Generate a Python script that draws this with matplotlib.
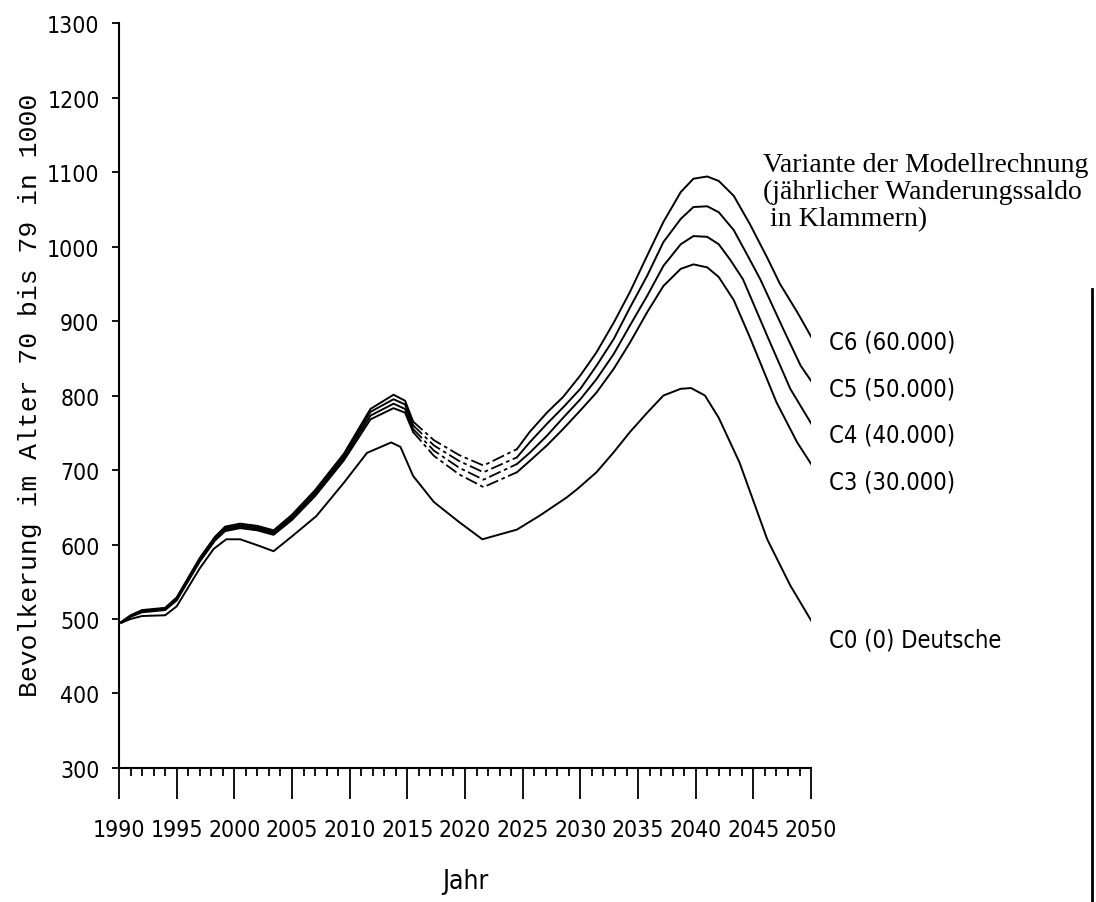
import matplotlib
matplotlib.use('Agg')
import matplotlib.pyplot as plt
from matplotlib.lines import Line2D

# values (population aged 70-79, in 1000)
years_c0 = [1990.2, 1991, 1992, 1994, 1995, 1997, 1998.2, 1999.3, 2000.5, 2002, 2003.4, 2005, 2007.1,
            2009.5, 2011.5, 2013.6, 2014.4, 2015.5, 2017.3, 2019.5, 2021.5, 2024.5, 2026.5, 2028.8,
            2029.7, 2031.4, 2032.9, 2034.3, 2035.8, 2037.2, 2038.7, 2039.6, 2040.8, 2042.0, 2043.8,
            2046.2, 2048.2, 2050.2]
c0 = [495, 500, 504, 505, 517, 568, 594, 607, 607, 599, 591, 611, 638, 683, 723, 737, 731, 692, 657,
      630, 607, 620, 639, 663, 674, 697, 724, 751, 777, 800, 809, 810, 800, 770, 710, 607, 545, 493]

# common year grid of the C3..C6 variants up to 2042, tails differ per curve
years_up = [1990.2, 1991, 1992, 1994, 1995, 1997, 1998.3, 1999.2, 2000.5, 2002, 2003.4, 2005, 2007,
            2009.5, 2011.8, 2013.8, 2014.8, 2015.5, 2017.3, 2019.5, 2021.6, 2024.5, 2025.6, 2027.1,
            2028.5, 2030.0, 2031.4, 2032.9, 2034.3, 2035.8, 2037.2, 2038.7, 2039.8, 2041.0, 2042.0]

years_c3 = years_up + [2043.3, 2044.7, 2047.0, 2048.8, 2050.3]
c3 = [495, 503, 509, 512, 525, 577, 605, 618, 622, 619, 613, 633, 665, 713, 768, 783, 777, 751, 719,
      694, 677, 697, 712, 733, 755, 780, 804, 836, 871, 912, 947, 970, 976, 972, 959,
      928, 878, 791, 737, 701]

years_c4 = years_up + [2043.0, 2044.1, 2046.2, 2048.2, 2050.3]
c4 = [495, 504, 510, 513, 526, 579, 606, 620, 624, 621, 615, 635, 668, 716, 773, 789, 782, 755, 726,
      703, 687, 708, 723, 746, 770, 795, 822, 856, 894, 934, 974, 1003, 1014, 1013, 1003,
      982, 956, 880, 809, 755]

years_c5 = years_up + [2043.3, 2044.6, 2045.6, 2047.6, 2049.1, 2050.3]
c5 = [496, 504, 511, 514, 528, 580, 608, 622, 626, 623, 617, 637, 670, 719, 778, 795, 788, 760, 733,
      712, 697, 717, 737, 762, 784, 809, 840, 876, 918, 961, 1006, 1037, 1053, 1054, 1046,
      1022, 985, 956, 889, 840, 813]

years_c6 = years_up + [2043.3, 2044.7, 2046.2, 2047.3, 2048.8, 2050.3]
c6 = [496, 505, 512, 515, 529, 582, 610, 624, 628, 625, 619, 640, 673, 722, 782, 801, 793, 765, 740,
      720, 706, 728, 751, 777, 798, 827, 858, 898, 939, 988, 1033, 1073, 1091, 1094, 1088,
      1068, 1030, 985, 950, 912, 871]

curve_labels = ['C6 (60.000)', 'C5 (50.000)', 'C4 (40.000)', 'C3 (30.000)', 'C0 (0) Deutsche']

NARROW = dict(family='DejaVu Sans', stretch='condensed')
SERIF = ['Liberation Serif', 'DejaVu Serif']
MONO = ['Liberation Mono', 'DejaVu Sans Mono']

fig = plt.figure(figsize=(10.96, 9.03), dpi=100)
ax = fig.add_axes([0.1086, 0.1484, 0.6314, 0.8250])

ax.plot(years_c0, c0, color='black', lw=1.4)

# the variants look broken/dash-dotted in the dip between 2015 and 2025
for yrs, vals in [(years_c3, c3), (years_c4, c4), (years_c5, c5), (years_c6, c6)]:
    i0 = yrs.index(2015.5)
    i1 = yrs.index(2024.5)
    ax.plot(yrs[:i0 + 1], vals[:i0 + 1], color='black', lw=1.4)
    ax.plot(yrs[i0:i1 + 1], vals[i0:i1 + 1], color='black', lw=1.3, ls=(0, (7, 2, 2, 2)))
    ax.plot(yrs[i1:], vals[i1:], color='black', lw=1.4)

ax.set_xlim(1990, 2050)
ax.set_ylim(300, 1300)
ax.set_xticks(range(1990, 2051, 5))
ax.set_xticks(range(1990, 2051), minor=True)
ax.set_yticks(range(300, 1301, 100))
ax.tick_params(axis='x', which='major', direction='out', length=22, width=1.3, pad=14, labelsize=16.5)
ax.tick_params(axis='x', which='minor', direction='out', length=6, width=1.3)
ax.tick_params(axis='y', direction='out', length=5, width=1.3, pad=9, labelsize=16.5)
for lab in ax.get_xticklabels() + ax.get_yticklabels():
    lab.set_family(NARROW['family'])
    lab.set_stretch(NARROW['stretch'])

ax.spines['top'].set_visible(False)
ax.spines['right'].set_visible(False)
ax.spines['left'].set_linewidth(1.5)
ax.spines['bottom'].set_linewidth(1.5)

# curve labels right of the line ends
label_y = [872, 809, 748, 685, 473]
for txt, yv in zip(curve_labels, label_y):
    ax.text(2051.6, yv, txt, ha='left', va='center', fontsize=17, clip_on=False, **NARROW)

fig.text(0.696, 0.831, 'Variante der Modellrechnung\n(jährlicher Wanderungssaldo\n in Klammern)',
         ha='left', va='top', fontsize=20, family=SERIF, linespacing=1.12)

fig.text(30 / 1096, 1 - 395 / 903, 'Bevolkerung im Alter 70 bis 79 in 1000', rotation=90,
         ha='center', va='center', fontsize=19, family=MONO)
fig.text(465 / 1096, 1 - 882 / 903, 'Jahr', ha='center', va='center', fontsize=19, **NARROW)

# scan edge on the right
fig.add_artist(Line2D([1092 / 1096, 1092 / 1096], [0, 1 - 290 / 903], transform=fig.transFigure,
                      color='black', lw=2))

fig.savefig('out.png', dpi=100)
